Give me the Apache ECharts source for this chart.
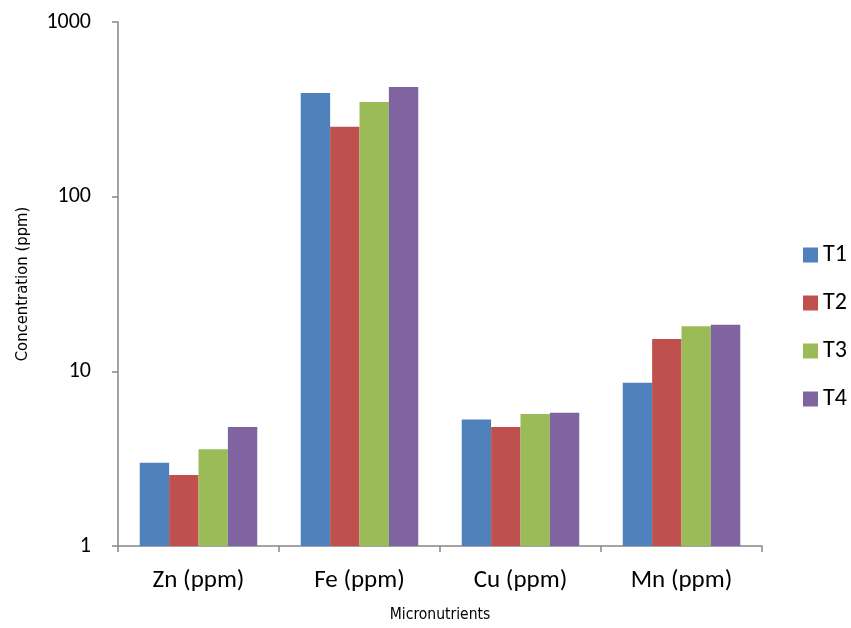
<!DOCTYPE html>
<html>
<head>
<meta charset="utf-8">
<script src="https://cdn.jsdelivr.net/npm/echarts@6/dist/echarts.min.js"></script>
<style>
html,body{margin:0;padding:0;background:#fff;}
#chart{width:851px;height:628px;}
</style>
</head>
<body>
<div id="chart"></div>
<script>
var categories = ['Zn (ppm)', 'Fe (ppm)', 'Cu (ppm)', 'Mn (ppm)'];
var seriesNames = ['T1', 'T2', 'T3', 'T4'];
var T1 = [3.0, 392, 5.3, 8.6];
var T2 = [2.55, 251, 4.8, 15.3];
var T3 = [3.58, 348, 5.7, 18.1];
var T4 = [4.8, 425, 5.8, 18.5];
var colors = ['#4F81BD', '#C0504D', '#9BBB59', '#8064A2'];
var yAxisTitle = 'Concentration (ppm)';
var xAxisTitle = 'Micronutrients';

var FONT = "Carlito, Lato, 'Liberation Sans', sans-serif";
var NARROW = "'Liberation Sans Narrow', 'Arial Narrow', 'DejaVu Sans Condensed', 'Liberation Sans', sans-serif";

var values = [T1, T2, T3, T4];
var chart = echarts.init(document.getElementById('chart'), null, {renderer: 'canvas'});
var option = {
  animation: false,
  backgroundColor: '#ffffff',
  color: colors,
  grid: {left: 118, right: 89, top: 22, bottom: 81, containLabel: false},
  legend: {
    orient: 'vertical',
    left: 803,
    top: 243,
    padding: 0,
    itemWidth: 15,
    itemHeight: 15,
    itemGap: 24,
    icon: 'rect',
    textStyle: {fontFamily: FONT, fontSize: 24, color: '#000', lineHeight: 24},
    data: seriesNames
  },
  xAxis: {
    type: 'category',
    data: categories,
    name: xAxisTitle,
    nameLocation: 'middle',
    nameGap: 61,
    nameTextStyle: {fontFamily: NARROW, fontSize: 15.5, color: '#000'},
    axisLine: {lineStyle: {color: '#868686', width: 1.5}},
    axisTick: {show: true, length: 6, lineStyle: {color: '#868686', width: 1.5}},
    axisLabel: {fontFamily: FONT, fontSize: 25, color: '#000', margin: 22},
    splitLine: {show: false}
  },
  yAxis: {
    type: 'log',
    logBase: 10,
    min: 1,
    max: 1000,
    name: yAxisTitle,
    nameLocation: 'middle',
    nameGap: 87,
    nameRotate: 90,
    nameTextStyle: {fontFamily: NARROW, fontSize: 16.5, color: '#000'},
    axisLine: {show: true, lineStyle: {color: '#868686', width: 1.5}},
    axisTick: {show: true, length: 6, lineStyle: {color: '#868686', width: 1.5}},
    minorTick: {show: false},
    axisLabel: {fontFamily: FONT, fontSize: 22, color: '#000', margin: 27,
      formatter: function (v) { return String(Math.round(v)); }},
    splitLine: {show: false}
  },
  series: seriesNames.map(function (n, i) {
    return {
      name: n,
      type: 'bar',
      data: values[i],
      barGap: '0%',
      barCategoryGap: '27%',
      itemStyle: {color: colors[i]}
    };
  })
};
chart.setOption(option);
</script>
</body>
</html>
